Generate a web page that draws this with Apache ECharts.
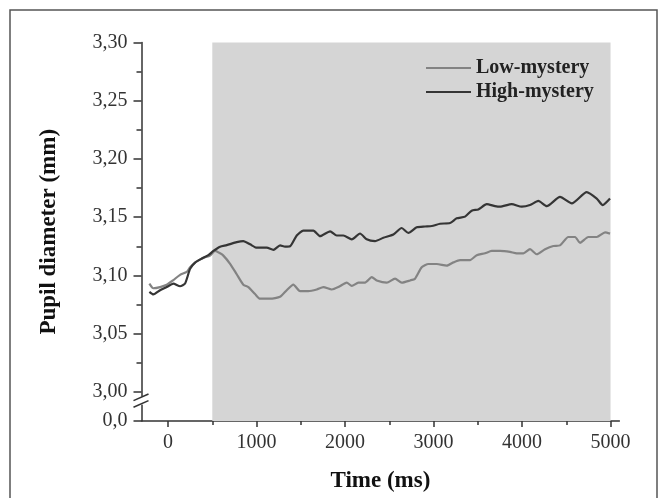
<!DOCTYPE html>
<html>
<head>
<meta charset="utf-8">
<script src="https://cdn.jsdelivr.net/npm/echarts@6/dist/echarts.min.js"></script>
<style>
html,body{margin:0;padding:0;background:#fff;}
#c{width:668px;height:498px;}
</style>
</head>
<body>
<div id="c"></div>
<script>
// ---- data ----
const lowTime = [-211,-166,-90,-15,60,136,211,249,324,399,475,531,588,625,701,776,851,907,983,1040,1153,1266,1341,1416,1492,1585,1680,1755,1850,1925,2019,2076,2151,2226,2302,2358,2471,2565,2640,2734,2791,2866,2942,3036,3149,3224,3299,3412,3488,3582,3657,3751,3864,3940,4015,4090,4166,4260,4354,4429,4523,4599,4655,4749,4844,4938,4994];
const lowValues = [3.093,3.089,3.090,3.092,3.096,3.1005,3.103,3.107,3.112,3.115,3.117,3.121,3.119,3.117,3.110,3.101,3.092,3.090,3.084,3.080,3.080,3.0817,3.0873,3.0921,3.0865,3.0865,3.0879,3.090,3.0879,3.090,3.0938,3.091,3.0938,3.0938,3.0985,3.0957,3.0938,3.0972,3.0938,3.0957,3.0972,3.107,3.1098,3.1098,3.1084,3.1112,3.1132,3.1132,3.1174,3.119,3.121,3.121,3.1202,3.119,3.119,3.1225,3.1182,3.1225,3.1253,3.1258,3.133,3.133,3.128,3.133,3.133,3.137,3.1359];
const highTime = [-211,-166,-90,-15,60,136,192,249,305,381,455,512,588,663,776,851,927,1002,1115,1190,1266,1322,1379,1454,1529,1642,1718,1831,1906,1981,2076,2169,2245,2339,2433,2546,2640,2715,2810,2904,2980,3073,3186,3262,3356,3431,3506,3601,3695,3751,3883,3997,4090,4184,4279,4429,4562,4731,4844,4912,4994];
const highValues = [3.0859,3.0837,3.0873,3.090,3.093,3.0907,3.093,3.1056,3.111,3.1145,3.1174,3.121,3.1247,3.126,3.1286,3.1295,3.1267,3.1238,3.1238,3.1219,3.1258,3.1247,3.125,3.1343,3.1385,3.1385,3.1337,3.1379,3.1343,3.1343,3.131,3.136,3.131,3.1295,3.1323,3.1351,3.1407,3.1365,3.1413,3.142,3.1424,3.1444,3.145,3.149,3.1505,3.1556,3.1567,3.1612,3.1595,3.159,3.1612,3.159,3.1604,3.164,3.1595,3.1674,3.1618,3.1716,3.166,3.1604,3.166];
const seriesNames = ['Low-mystery','High-mystery'];
const stimulusWindow = [500, 5000];
const xMajorTicks = [0,1000,2000,3000,4000,5000];
const xAllTicks = [0,500,1000,1500,2000,2500,3000,3500,4000,4500,5000];
const yMajorTicks = [2.975,3.00,3.05,3.10,3.15,3.20,3.25,3.30];
const yAllTicks = [2.975,3.00,3.025,3.05,3.075,3.10,3.125,3.15,3.175,3.20,3.225,3.25,3.275,3.30];
const yBreakValue = 2.975; // shown as "0,0" below the axis break

const SERIF = "'Liberation Serif','Times New Roman',serif";
const chart = echarts.init(document.getElementById('c'), null, {renderer:'canvas'});

const xBase = {min:-300, max:5100, type:'value', position:'bottom', splitLine:{show:false}};
const yBase = {min:2.975, max:3.30, type:'value', position:'left', splitLine:{show:false}};

chart.setOption({
  animation:false,
  backgroundColor:'#fff',
  grid:{left:141.5, right:48.6, top:42.5, bottom:71},
  legend:{
    data:seriesNames, orient:'vertical', left:421, top:53,
    icon:'rect', itemWidth:45, itemHeight:2, itemGap:4,
    textStyle:{fontFamily:SERIF, fontWeight:'bold', fontSize:20, color:'#222'}
  },
  xAxis:[
    Object.assign({}, xBase, {
      name:'Time (ms)', nameLocation:'middle', nameGap:49,
      nameTextStyle:{fontFamily:SERIF, fontWeight:'bold', fontSize:23, color:'#111'},
      axisLine:{onZero:false, lineStyle:{color:'#333', width:1.5}},
      axisTick:{customValues:xAllTicks, length:4, lineStyle:{color:'#333', width:1.5}},
      axisLabel:{customValues:xMajorTicks, margin:12, fontFamily:SERIF, fontSize:20, color:'#333',
        formatter:v => String(v)}
    }),
    Object.assign({}, xBase, {
      axisLine:{show:false, onZero:false},
      axisTick:{customValues:xMajorTicks, length:6, lineStyle:{color:'#333', width:1.5}},
      axisLabel:{show:false}
    })
  ],
  yAxis:[
    Object.assign({}, yBase, {
      name:'Pupil diameter (mm)', nameLocation:'middle', nameGap:81, nameRotate:90,
      nameTextStyle:{fontFamily:SERIF, fontWeight:'bold', fontSize:23, color:'#111'},
      axisLine:{show:true, onZero:false, lineStyle:{color:'#333', width:1.5}},
      axisTick:{show:true, customValues:yAllTicks, length:5, lineStyle:{color:'#333', width:1.5}},
      axisLabel:{customValues:yMajorTicks, margin:14, fontFamily:SERIF, fontSize:20, color:'#333',
        formatter:v => (Math.abs(v - yBreakValue) < 1e-6 ? '0,0' : v.toFixed(2).replace('.', ','))}
    }),
    Object.assign({}, yBase, {
      axisLine:{show:false, onZero:false},
      axisTick:{show:true, customValues:yMajorTicks, length:8, lineStyle:{color:'#333', width:1.5}},
      axisLabel:{show:false}
    })
  ],
  series:[
    {
      name:'shade', type:'line', data:[], z:1, silent:true,
      markArea:{silent:true, itemStyle:{color:'#d5d5d5'},
        data:[[{xAxis:stimulusWindow[0]},{xAxis:stimulusWindow[1]}]]}
    },
    {
      name:seriesNames[0], type:'line', symbol:'none', smooth:0.2, z:3,
      lineStyle:{color:'#838383', width:2.2}, itemStyle:{color:'#838383'},
      data:lowTime.map((t,i)=>[t, lowValues[i]])
    },
    {
      name:seriesNames[1], type:'line', symbol:'none', smooth:0.2, z:4,
      lineStyle:{color:'#353535', width:2.2}, itemStyle:{color:'#353535'},
      data:highTime.map((t,i)=>[t, highValues[i]])
    }
  ]
});

// axis break marks and outer frame
const ax = chart.convertToPixel({xAxisIndex:0}, -300);
const y3 = chart.convertToPixel({yAxisIndex:0}, 3.00);
const y0 = chart.convertToPixel({yAxisIndex:0}, yBreakValue);
const yc = y3 + 0.3*(y0 - y3);
chart.setOption({
  graphic:[
    {type:'rect', shape:{x:10, y:10, width:647, height:520}, style:{fill:'none', stroke:'#555', lineWidth:1.5}, z:0, silent:true},
    {type:'rect', shape:{x:ax-2, y:yc-4, width:4, height:8}, style:{fill:'#fff'}, z:100, silent:true},
    {type:'line', shape:{x1:ax-8, y1:yc, x2:ax+7, y2:yc-6.6}, style:{stroke:'#333', lineWidth:1.5}, z:101, silent:true},
    {type:'line', shape:{x1:ax-8, y1:yc+6.6, x2:ax+7, y2:yc}, style:{stroke:'#333', lineWidth:1.5}, z:101, silent:true}
  ]
});
</script>
</body>
</html>
